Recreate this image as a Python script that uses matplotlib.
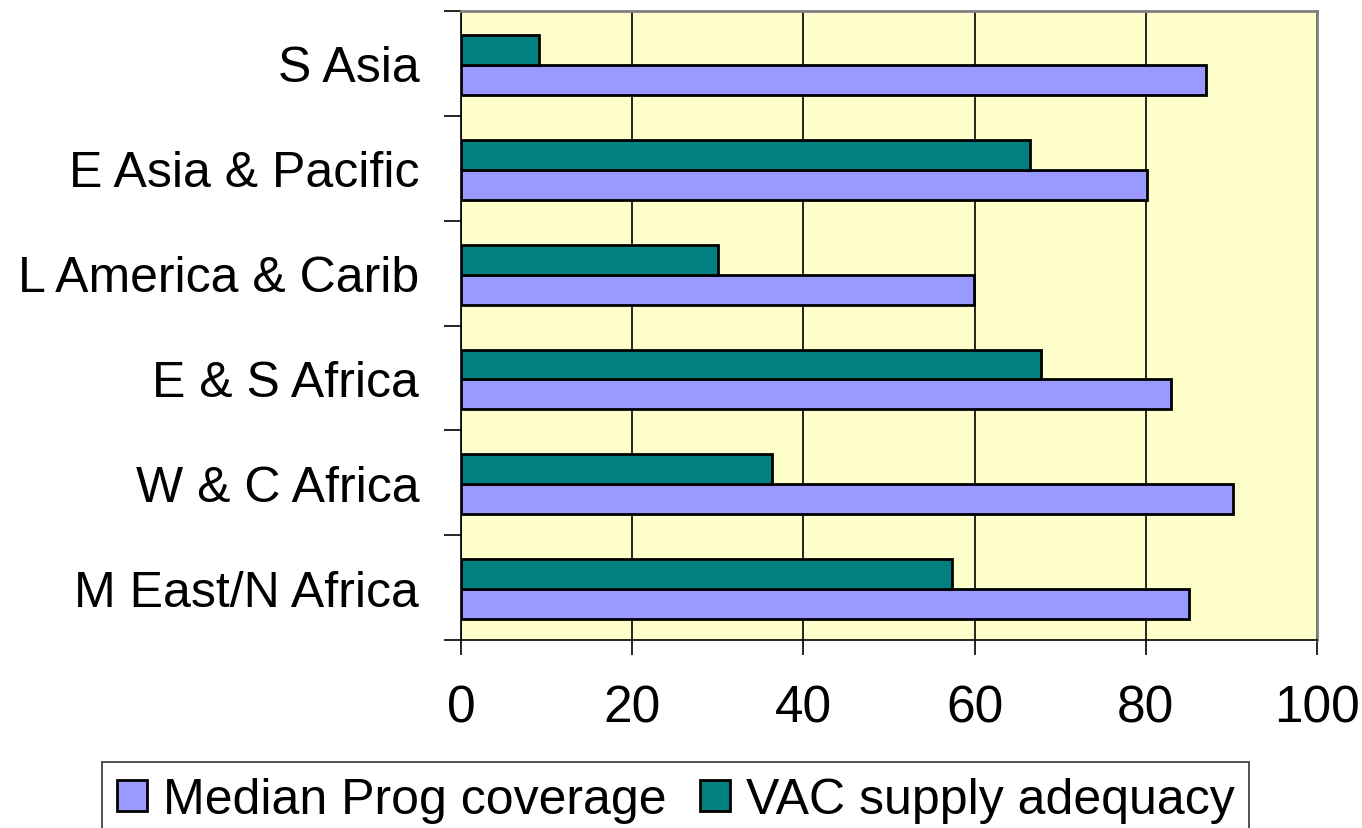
import matplotlib
matplotlib.use("Agg")
import matplotlib.pyplot as plt
import numpy as np

plt.rcParams['font.family'] = ['Liberation Sans', 'DejaVu Sans']

categories = ["M East/N Africa", "W & C Africa", "E & S Africa",
              "L America & Carib", "E Asia & Pacific", "S Asia"]
median_prog = [85.0, 90.2, 82.9, 59.9, 80.1, 87.0]
vac_supply = [57.4, 36.3, 67.8, 30.0, 66.5, 9.1]
xticks = [0, 20, 40, 60, 80, 100]

fig = plt.figure(figsize=(13.62, 8.29), dpi=100)
ax = fig.add_axes([461/1362, 1 - 641/829, (1317-461)/1362, (641-12)/829])
ax.set_facecolor('#FFFFCC')

y = np.arange(len(categories))
h = 0.286
ax.barh(y - h/2 - 0.015, median_prog, height=h, color='#9999FF', edgecolor='black', linewidth=2, zorder=3,
        label='Median Prog coverage')
ax.barh(y + h/2 - 0.015, vac_supply, height=h, color='#008080', edgecolor='black', linewidth=2, zorder=3,
        label='VAC supply adequacy')

ax.set_xlim(0, 100)
ax.set_ylim(-0.5, len(categories) - 0.5)
ax.set_xticks(xticks)
ax.set_xticklabels([str(v) for v in xticks])
ax.set_yticks(y)
ax.set_yticklabels(categories)
ax.set_yticks(np.arange(-0.5, len(categories), 1.0), minor=True)
ax.tick_params(axis='y', which='major', length=0, pad=30, labelsize=36)
ax.tick_params(axis='y', which='minor', length=12, width=1.2, color='black')
ax.tick_params(axis='x', which='major', length=11, width=1.2, pad=20, labelsize=37)
ax.xaxis.grid(True, color='black', linewidth=1.2, zorder=1)
ax.set_axisbelow(True)

for side in ['top', 'right']:
    ax.spines[side].set_color('#808080')
    ax.spines[side].set_linewidth(2)
for side in ['left', 'bottom']:
    ax.spines[side].set_color('black')
    ax.spines[side].set_linewidth(1.2)

leg = fig.legend(loc='upper left', bbox_to_anchor=(102/1362, 1 - 763/829), ncol=2,
                 fontsize=36, frameon=True, fancybox=False, edgecolor='black',
                 handlelength=0.6, handleheight=0.56, handletextpad=0.32, columnspacing=0.66,
                 borderpad=0.3, borderaxespad=0)
leg.get_frame().set_linewidth(1.2)
for hnd in leg.legend_handles:
    hnd.set_linewidth(2)

fig.savefig('out.png', dpi=100)
